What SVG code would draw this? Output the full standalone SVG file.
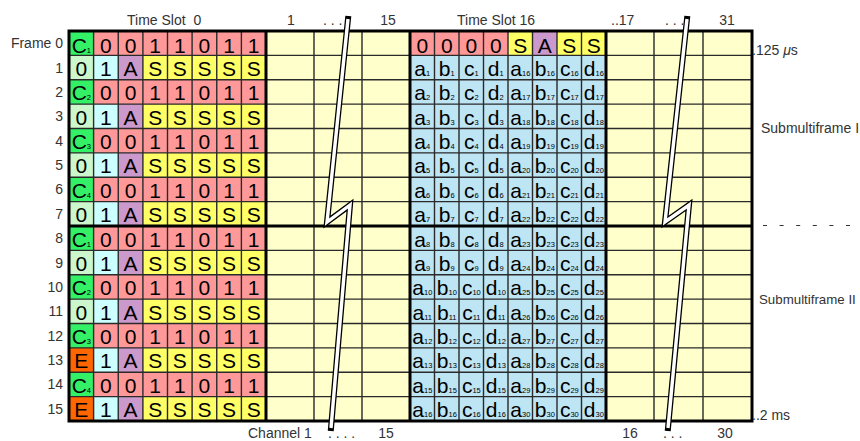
<svg xmlns="http://www.w3.org/2000/svg" width="860" height="441" viewBox="0 0 860 441">
<style>
.big{font-family:"Liberation Sans",Arial,sans-serif;font-size:21px;text-anchor:middle;fill:#000}
.sb{font-size:7.5px}
.lbl{font-family:"Liberation Sans",Arial,sans-serif;font-size:14px;fill:#333}
.rl{text-anchor:end}
.thin{fill:none;stroke:#2a2a2a;stroke-width:1.4}
.thick{fill:none;stroke:#000;stroke-width:3}
.brk1{fill:none;stroke:#000;stroke-width:6;stroke-linecap:square;stroke-linejoin:miter}
.brk2{fill:none;stroke:#fff;stroke-width:3.4;stroke-linecap:butt;stroke-linejoin:miter}
</style>
<rect width="860" height="441" fill="#fff"/>

<g id="ts0">
<rect x="69" y="31" width="24.6" height="390" fill="#33F066"/>
<rect x="93.6" y="31" width="172.4" height="390" fill="#FF9999"/>
<g id="ts0-odd">
<rect x="69" y="55.375" width="24.6" height="24.375" fill="#CCF7CC"/>
<rect x="69" y="104.125" width="24.6" height="24.375" fill="#CCF7CC"/>
<rect x="69" y="152.875" width="24.6" height="24.375" fill="#CCF7CC"/>
<rect x="69" y="201.625" width="24.6" height="24.375" fill="#CCF7CC"/>
<rect x="69" y="250.375" width="24.6" height="24.375" fill="#CCF7CC"/>
<rect x="69" y="299.125" width="24.6" height="24.375" fill="#CCF7CC"/>
<rect x="69" y="347.875" width="24.6" height="24.375" fill="#FF6600"/>
<rect x="69" y="396.625" width="24.6" height="24.375" fill="#FF6600"/>
<rect x="93.6" y="55.375" width="24.65" height="24.375" fill="#CCFFFF"/>
<rect x="93.6" y="104.125" width="24.65" height="24.375" fill="#CCFFFF"/>
<rect x="93.6" y="152.875" width="24.65" height="24.375" fill="#CCFFFF"/>
<rect x="93.6" y="201.625" width="24.65" height="24.375" fill="#CCFFFF"/>
<rect x="93.6" y="250.375" width="24.65" height="24.375" fill="#CCFFFF"/>
<rect x="93.6" y="299.125" width="24.65" height="24.375" fill="#CCFFFF"/>
<rect x="93.6" y="347.875" width="24.65" height="24.375" fill="#CCFFFF"/>
<rect x="93.6" y="396.625" width="24.65" height="24.375" fill="#CCFFFF"/>
<rect x="118.25" y="55.375" width="24.65" height="24.375" fill="#CC99CC"/>
<rect x="118.25" y="104.125" width="24.65" height="24.375" fill="#CC99CC"/>
<rect x="118.25" y="152.875" width="24.65" height="24.375" fill="#CC99CC"/>
<rect x="118.25" y="201.625" width="24.65" height="24.375" fill="#CC99CC"/>
<rect x="118.25" y="250.375" width="24.65" height="24.375" fill="#CC99CC"/>
<rect x="118.25" y="299.125" width="24.65" height="24.375" fill="#CC99CC"/>
<rect x="118.25" y="347.875" width="24.65" height="24.375" fill="#CC99CC"/>
<rect x="118.25" y="396.625" width="24.65" height="24.375" fill="#CC99CC"/>
<rect x="142.9" y="55.375" width="123.1" height="24.375" fill="#FFFF66"/>
<rect x="142.9" y="104.125" width="123.1" height="24.375" fill="#FFFF66"/>
<rect x="142.9" y="152.875" width="123.1" height="24.375" fill="#FFFF66"/>
<rect x="142.9" y="201.625" width="123.1" height="24.375" fill="#FFFF66"/>
<rect x="142.9" y="250.375" width="123.1" height="24.375" fill="#FFFF66"/>
<rect x="142.9" y="299.125" width="123.1" height="24.375" fill="#FFFF66"/>
<rect x="142.9" y="347.875" width="123.1" height="24.375" fill="#FFFF66"/>
<rect x="142.9" y="396.625" width="123.1" height="24.375" fill="#FFFF66"/>
</g>
</g>

<g id="ts1-15"><rect x="266" y="31" width="144" height="390" fill="#FFFFCC"/></g>
<g id="ts17-31"><rect x="606" y="31" width="146" height="390" fill="#FFFFCC"/></g>

<g id="ts16">
<rect x="410" y="31" width="196" height="390" fill="#BEE5F4"/>
<rect x="410" y="31" width="98" height="24.375" fill="#FF9999"/>
<rect x="508" y="31" width="24.5" height="24.375" fill="#FFFF66"/>
<rect x="532.5" y="31" width="24.5" height="24.375" fill="#CC99CC"/>
<rect x="557" y="31" width="49" height="24.375" fill="#FFFF66"/>
</g>

<g id="grid">
<path class="thin" d="M93.6 31V421M118.25 31V421M142.9 31V421M167.5 31V421M192.1 31V421M216.75 31V421M241.4 31V421M314 31V421M362 31V421M434.5 31V421M459 31V421M483.5 31V421M508 31V421M532.5 31V421M557 31V421M581.5 31V421M654 31V421M703 31V421M69 55.375H752M69 79.75H752M69 104.125H752M69 128.5H752M69 152.875H752M69 177.25H752M69 201.625H752M69 250.375H752M69 274.75H752M69 299.125H752M69 323.5H752M69 347.875H752M69 372.25H752M69 396.625H752"/>
<path class="thick" d="M266 31V421M410 31V421M606 31V421M69 226H752"/>
<rect class="thick" x="69" y="31" width="683" height="390"/>
</g>

<g id="ts0-text" class="big">
<text y="52.5"><tspan x="81.3">C</tspan><tspan class="sb">1</tspan></text>
<text x="105.9 130.6 155.2 179.8 204.4 229.1 253.7" y="52.5">0011011</text>
<text x="81.3 105.9 130.6 155.2 179.8 204.4 229.1 253.7" y="75.9">01ASSSSS</text>
<text y="100.3"><tspan x="81.3">C</tspan><tspan class="sb">2</tspan></text>
<text x="105.9 130.6 155.2 179.8 204.4 229.1 253.7" y="100.3">0011011</text>
<text x="81.3 105.9 130.6 155.2 179.8 204.4 229.1 253.7" y="124.6">01ASSSSS</text>
<text y="149"><tspan x="81.3">C</tspan><tspan class="sb">3</tspan></text>
<text x="105.9 130.6 155.2 179.8 204.4 229.1 253.7" y="149">0011011</text>
<text x="81.3 105.9 130.6 155.2 179.8 204.4 229.1 253.7" y="173.4">01ASSSSS</text>
<text y="197.8"><tspan x="81.3">C</tspan><tspan class="sb">4</tspan></text>
<text x="105.9 130.6 155.2 179.8 204.4 229.1 253.7" y="197.8">0011011</text>
<text x="81.3 105.9 130.6 155.2 179.8 204.4 229.1 253.7" y="222.1">01ASSSSS</text>
<text y="246.5"><tspan x="81.3">C</tspan><tspan class="sb">1</tspan></text>
<text x="105.9 130.6 155.2 179.8 204.4 229.1 253.7" y="246.5">0011011</text>
<text x="81.3 105.9 130.6 155.2 179.8 204.4 229.1 253.7" y="270.9">01ASSSSS</text>
<text y="295.3"><tspan x="81.3">C</tspan><tspan class="sb">2</tspan></text>
<text x="105.9 130.6 155.2 179.8 204.4 229.1 253.7" y="295.3">0011011</text>
<text x="81.3 105.9 130.6 155.2 179.8 204.4 229.1 253.7" y="319.6">01ASSSSS</text>
<text y="344"><tspan x="81.3">C</tspan><tspan class="sb">3</tspan></text>
<text x="105.9 130.6 155.2 179.8 204.4 229.1 253.7" y="344">0011011</text>
<text x="81.3 105.9 130.6 155.2 179.8 204.4 229.1 253.7" y="368.4">E1ASSSSS</text>
<text y="392.8"><tspan x="81.3">C</tspan><tspan class="sb">4</tspan></text>
<text x="105.9 130.6 155.2 179.8 204.4 229.1 253.7" y="392.8">0011011</text>
<text x="81.3 105.9 130.6 155.2 179.8 204.4 229.1 253.7" y="417.1">E1ASSSSS</text>
</g>

<g id="ts16-text" class="big">
<text x="422.3 446.8 471.3 495.8 520.3 544.8 569.3 593.8" y="52.5">0000SASS</text>
<text y="75.9"><tspan x="422.3">a</tspan><tspan class="sb">1</tspan><tspan x="446.8">b</tspan><tspan class="sb">1</tspan><tspan x="471.3">c</tspan><tspan class="sb">1</tspan><tspan x="495.8">d</tspan><tspan class="sb">1</tspan><tspan x="520.3">a</tspan><tspan class="sb">16</tspan><tspan x="544.8">b</tspan><tspan class="sb">16</tspan><tspan x="569.3">c</tspan><tspan class="sb">16</tspan><tspan x="593.8">d</tspan><tspan class="sb">16</tspan></text>
<text y="100.3"><tspan x="422.3">a</tspan><tspan class="sb">2</tspan><tspan x="446.8">b</tspan><tspan class="sb">2</tspan><tspan x="471.3">c</tspan><tspan class="sb">2</tspan><tspan x="495.8">d</tspan><tspan class="sb">2</tspan><tspan x="520.3">a</tspan><tspan class="sb">17</tspan><tspan x="544.8">b</tspan><tspan class="sb">17</tspan><tspan x="569.3">c</tspan><tspan class="sb">17</tspan><tspan x="593.8">d</tspan><tspan class="sb">17</tspan></text>
<text y="124.6"><tspan x="422.3">a</tspan><tspan class="sb">3</tspan><tspan x="446.8">b</tspan><tspan class="sb">3</tspan><tspan x="471.3">c</tspan><tspan class="sb">3</tspan><tspan x="495.8">d</tspan><tspan class="sb">3</tspan><tspan x="520.3">a</tspan><tspan class="sb">18</tspan><tspan x="544.8">b</tspan><tspan class="sb">18</tspan><tspan x="569.3">c</tspan><tspan class="sb">18</tspan><tspan x="593.8">d</tspan><tspan class="sb">18</tspan></text>
<text y="149"><tspan x="422.3">a</tspan><tspan class="sb">4</tspan><tspan x="446.8">b</tspan><tspan class="sb">4</tspan><tspan x="471.3">c</tspan><tspan class="sb">4</tspan><tspan x="495.8">d</tspan><tspan class="sb">4</tspan><tspan x="520.3">a</tspan><tspan class="sb">19</tspan><tspan x="544.8">b</tspan><tspan class="sb">19</tspan><tspan x="569.3">c</tspan><tspan class="sb">19</tspan><tspan x="593.8">d</tspan><tspan class="sb">19</tspan></text>
<text y="173.4"><tspan x="422.3">a</tspan><tspan class="sb">5</tspan><tspan x="446.8">b</tspan><tspan class="sb">5</tspan><tspan x="471.3">c</tspan><tspan class="sb">5</tspan><tspan x="495.8">d</tspan><tspan class="sb">5</tspan><tspan x="520.3">a</tspan><tspan class="sb">20</tspan><tspan x="544.8">b</tspan><tspan class="sb">20</tspan><tspan x="569.3">c</tspan><tspan class="sb">20</tspan><tspan x="593.8">d</tspan><tspan class="sb">20</tspan></text>
<text y="197.8"><tspan x="422.3">a</tspan><tspan class="sb">6</tspan><tspan x="446.8">b</tspan><tspan class="sb">6</tspan><tspan x="471.3">c</tspan><tspan class="sb">6</tspan><tspan x="495.8">d</tspan><tspan class="sb">6</tspan><tspan x="520.3">a</tspan><tspan class="sb">21</tspan><tspan x="544.8">b</tspan><tspan class="sb">21</tspan><tspan x="569.3">c</tspan><tspan class="sb">21</tspan><tspan x="593.8">d</tspan><tspan class="sb">21</tspan></text>
<text y="222.1"><tspan x="422.3">a</tspan><tspan class="sb">7</tspan><tspan x="446.8">b</tspan><tspan class="sb">7</tspan><tspan x="471.3">c</tspan><tspan class="sb">7</tspan><tspan x="495.8">d</tspan><tspan class="sb">7</tspan><tspan x="520.3">a</tspan><tspan class="sb">22</tspan><tspan x="544.8">b</tspan><tspan class="sb">22</tspan><tspan x="569.3">c</tspan><tspan class="sb">22</tspan><tspan x="593.8">d</tspan><tspan class="sb">22</tspan></text>
<text y="246.5"><tspan x="422.3">a</tspan><tspan class="sb">8</tspan><tspan x="446.8">b</tspan><tspan class="sb">8</tspan><tspan x="471.3">c</tspan><tspan class="sb">8</tspan><tspan x="495.8">d</tspan><tspan class="sb">8</tspan><tspan x="520.3">a</tspan><tspan class="sb">23</tspan><tspan x="544.8">b</tspan><tspan class="sb">23</tspan><tspan x="569.3">c</tspan><tspan class="sb">23</tspan><tspan x="593.8">d</tspan><tspan class="sb">23</tspan></text>
<text y="270.9"><tspan x="422.3">a</tspan><tspan class="sb">9</tspan><tspan x="446.8">b</tspan><tspan class="sb">9</tspan><tspan x="471.3">c</tspan><tspan class="sb">9</tspan><tspan x="495.8">d</tspan><tspan class="sb">9</tspan><tspan x="520.3">a</tspan><tspan class="sb">24</tspan><tspan x="544.8">b</tspan><tspan class="sb">24</tspan><tspan x="569.3">c</tspan><tspan class="sb">24</tspan><tspan x="593.8">d</tspan><tspan class="sb">24</tspan></text>
<text y="295.3"><tspan x="422.3">a</tspan><tspan class="sb">10</tspan><tspan x="446.8">b</tspan><tspan class="sb">10</tspan><tspan x="471.3">c</tspan><tspan class="sb">10</tspan><tspan x="495.8">d</tspan><tspan class="sb">10</tspan><tspan x="520.3">a</tspan><tspan class="sb">25</tspan><tspan x="544.8">b</tspan><tspan class="sb">25</tspan><tspan x="569.3">c</tspan><tspan class="sb">25</tspan><tspan x="593.8">d</tspan><tspan class="sb">25</tspan></text>
<text y="319.6"><tspan x="422.3">a</tspan><tspan class="sb">11</tspan><tspan x="446.8">b</tspan><tspan class="sb">11</tspan><tspan x="471.3">c</tspan><tspan class="sb">11</tspan><tspan x="495.8">d</tspan><tspan class="sb">11</tspan><tspan x="520.3">a</tspan><tspan class="sb">26</tspan><tspan x="544.8">b</tspan><tspan class="sb">26</tspan><tspan x="569.3">c</tspan><tspan class="sb">26</tspan><tspan x="593.8">d</tspan><tspan class="sb">26</tspan></text>
<text y="344"><tspan x="422.3">a</tspan><tspan class="sb">12</tspan><tspan x="446.8">b</tspan><tspan class="sb">12</tspan><tspan x="471.3">c</tspan><tspan class="sb">12</tspan><tspan x="495.8">d</tspan><tspan class="sb">12</tspan><tspan x="520.3">a</tspan><tspan class="sb">27</tspan><tspan x="544.8">b</tspan><tspan class="sb">27</tspan><tspan x="569.3">c</tspan><tspan class="sb">27</tspan><tspan x="593.8">d</tspan><tspan class="sb">27</tspan></text>
<text y="368.4"><tspan x="422.3">a</tspan><tspan class="sb">13</tspan><tspan x="446.8">b</tspan><tspan class="sb">13</tspan><tspan x="471.3">c</tspan><tspan class="sb">13</tspan><tspan x="495.8">d</tspan><tspan class="sb">13</tspan><tspan x="520.3">a</tspan><tspan class="sb">28</tspan><tspan x="544.8">b</tspan><tspan class="sb">28</tspan><tspan x="569.3">c</tspan><tspan class="sb">28</tspan><tspan x="593.8">d</tspan><tspan class="sb">28</tspan></text>
<text y="392.8"><tspan x="422.3">a</tspan><tspan class="sb">15</tspan><tspan x="446.8">b</tspan><tspan class="sb">15</tspan><tspan x="471.3">c</tspan><tspan class="sb">15</tspan><tspan x="495.8">d</tspan><tspan class="sb">15</tspan><tspan x="520.3">a</tspan><tspan class="sb">29</tspan><tspan x="544.8">b</tspan><tspan class="sb">29</tspan><tspan x="569.3">c</tspan><tspan class="sb">29</tspan><tspan x="593.8">d</tspan><tspan class="sb">29</tspan></text>
<text y="417.1"><tspan x="422.3">a</tspan><tspan class="sb">16</tspan><tspan x="446.8">b</tspan><tspan class="sb">16</tspan><tspan x="471.3">c</tspan><tspan class="sb">16</tspan><tspan x="495.8">d</tspan><tspan class="sb">16</tspan><tspan x="520.3">a</tspan><tspan class="sb">30</tspan><tspan x="544.8">b</tspan><tspan class="sb">30</tspan><tspan x="569.3">c</tspan><tspan class="sb">30</tspan><tspan x="593.8">d</tspan><tspan class="sb">30</tspan></text>
</g>

<g id="breaks">
<polyline class="brk1" points="348,19 327,222 350,205 331,428"/>
<polyline class="brk2" points="348,19 327,222 350,205 331,428"/>
<polyline class="brk1" points="687,19 665,222 689,205 668,428"/>
<polyline class="brk2" points="687,19 665,222 689,205 668,428"/>
</g>

<g id="row-labels" class="lbl rl">
<text x="63" y="48.2">Frame 0</text>
<text x="63" y="72.6">1</text>
<text x="63" y="97">2</text>
<text x="63" y="121.3">3</text>
<text x="63" y="145.7">4</text>
<text x="63" y="170.1">5</text>
<text x="63" y="194.4">6</text>
<text x="63" y="218.8">7</text>
<text x="63" y="243.2">8</text>
<text x="63" y="267.6">9</text>
<text x="63" y="291.9">10</text>
<text x="63" y="316.3">11</text>
<text x="63" y="340.7">12</text>
<text x="63" y="365.1">13</text>
<text x="63" y="389.4">14</text>
<text x="63" y="413.8">15</text>
</g>

<g id="top-labels" class="lbl">
<text x="127" y="25" xml:space="preserve">Time Slot  0</text>
<text x="291" y="25" text-anchor="middle">1</text>
<text x="323" y="25" xml:space="preserve">. . .</text>
<text x="388" y="25" text-anchor="middle">15</text>
<text x="457" y="25">Time Slot 16</text>
<text x="611" y="25">..17</text>
<text x="665" y="25" xml:space="preserve">. . .</text>
<text x="727" y="25" text-anchor="middle">31</text>
</g>

<g id="bottom-labels" class="lbl">
<text x="248" y="437.5">Channel 1</text>
<text x="328" y="437.5" xml:space="preserve">. . . .</text>
<text x="386" y="437.5" text-anchor="middle">15</text>
<text x="630" y="437.5" text-anchor="middle">16</text>
<text x="663" y="437.5" xml:space="preserve">. . .</text>
<text x="725" y="437.5" text-anchor="middle">30</text>
</g>

<g id="right-labels" class="lbl">
<text x="752" y="55">.125 <tspan font-style="italic">μ</tspan>s</text>
<text x="761" y="133">Submultiframe I</text>
<line x1="763" y1="225.5" x2="850" y2="225.5" stroke="#333" stroke-width="1" stroke-dasharray="4 12.6"/>
<text x="759" y="304" font-size="13.3">Submultiframe II</text>
<text x="752" y="420">..2 ms</text>
</g>
</svg>
